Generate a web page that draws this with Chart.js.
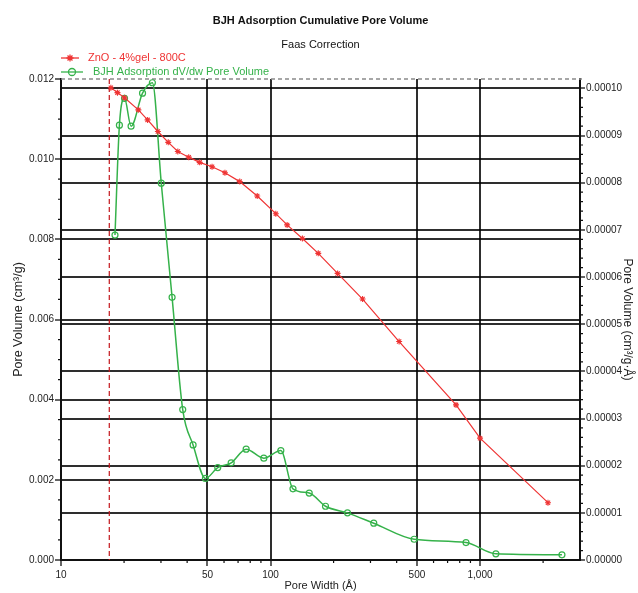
<!DOCTYPE html>
<html>
<head>
<meta charset="utf-8">
<title>BJH Adsorption Cumulative Pore Volume</title>
<script src="https://cdn.jsdelivr.net/npm/chart.js@4.4.1/dist/chart.umd.min.js"></script>
<style>
  html, body { margin: 0; padding: 0; background: #fff; }
  #wrap { width: 638px; height: 593px; }
</style>
</head>
<body>
<div id="wrap"><canvas id="chart" width="638" height="593"></canvas></div>
<script>
// cumulative pore volume: pore width (Å) / volume (cm³/g)
const cumWidth = [17.3, 18.6, 20.1, 23.4, 25.9, 29.0, 32.5, 36.1, 40.7, 45.9, 52.6, 60.6, 71.3, 86.4,
                  106, 120, 142, 169, 209, 275, 411, 768, 1000, 2110];
const cumVolume = [0.01178, 0.01166, 0.01153, 0.01123, 0.01098, 0.01069, 0.01042, 0.01019, 0.01005, 0.00992,
                   0.00981, 0.00966, 0.00944, 0.00908, 0.00864, 0.00836, 0.00802, 0.00765, 0.00715, 0.00651,
                   0.00545, 0.00387, 0.00304, 0.00143];

// dV/dw pore volume: pore width (Å) / volume (cm³/g·Å)
const dvWidth = [18.1, 19.0, 20.1, 21.6, 24.5, 27.3, 30.1, 33.9, 38.1, 42.7, 48.9, 56.0, 64.9, 76.5, 92.9,
                 112, 128, 153, 183, 233, 311, 485, 857, 1190, 2460];
const dvVolume = [6.89e-5, 9.22e-5, 9.79e-5, 9.20e-5, 9.90e-5, 1.012e-4, 7.99e-5, 5.57e-5, 3.19e-5, 2.44e-5,
                  1.73e-5, 1.96e-5, 2.06e-5, 2.35e-5, 2.16e-5, 2.32e-5, 1.51e-5, 1.42e-5, 1.14e-5, 1.00e-5,
                  7.8e-6, 4.4e-6, 3.7e-6, 1.3e-6, 1.1e-6];

// axes
const xMajorTicks = [10, 50, 100, 500, 1000];
const xMajorLabels = ['10', '50', '100', '500', '1,000'];
const xMinorTicks = [20, 30, 40, 60, 70, 80, 90, 200, 300, 400, 600, 700, 800, 900, 2000];
const leftTicks = [0, 0.002, 0.004, 0.006, 0.008, 0.010, 0.012];
const rightTicks = [0, 0.00001, 0.00002, 0.00003, 0.00004, 0.00005, 0.00006, 0.00007, 0.00008, 0.00009, 0.0001];
const rightAxisMax = 0.000102;
const minPoreWidth = 17;

const FONT = '"Liberation Sans", Arial, sans-serif';
const RED = '#ef3434';
const GREEN = '#35b24a';
const GRID = 'rgba(0,0,0,0.82)';
const CLEAR = 'rgba(0,0,0,0)';

Chart.defaults.font.family = FONT;

// title, legend, minor ticks and dashed lines
const dressing = {
    id: 'dressing',
    beforeDatasetsDraw(chart) {
        const {ctx, chartArea: a, scales} = chart;
        ctx.save();
        // lower limit of the BJH range
        const xm = scales.x.getPixelForValue(minPoreWidth);
        ctx.strokeStyle = '#c3161c';
        ctx.lineWidth = 1.2;
        ctx.setLineDash([5, 3]);
        ctx.beginPath();
        ctx.moveTo(xm, a.top);
        ctx.lineTo(xm, a.bottom);
        ctx.stroke();
        // dashed top edge
        ctx.strokeStyle = '#8a8a8a';
        ctx.lineWidth = 1.5;
        ctx.setLineDash([4, 3]);
        ctx.beginPath();
        ctx.moveTo(a.left, a.top);
        ctx.lineTo(a.right + 2, a.top);
        ctx.stroke();
        ctx.restore();
    },
    afterDraw(chart) {
        const {ctx, chartArea: a, scales} = chart;
        ctx.save();

        // minor tick marks
        ctx.strokeStyle = '#111';
        ctx.lineWidth = 1.2;
        ctx.beginPath();
        xMinorTicks.forEach(v => {
            const px = scales.x.getPixelForValue(v);
            ctx.moveTo(px, a.bottom);
            ctx.lineTo(px, a.bottom + 3);
        });
        for (let i = 1; i < 24; i++) {
            if (i % 4 === 0) continue;
            const py = scales.y.getPixelForValue(i * 0.0005);
            ctx.moveTo(a.left - 3, py);
            ctx.lineTo(a.left, py);
        }
        for (let i = 1; i < 51; i++) {
            if (i % 5 === 0) continue;
            const py = scales.y1.getPixelForValue(i * 0.000002);
            ctx.moveTo(a.right, py);
            ctx.lineTo(a.right + 3, py);
        }
        ctx.stroke();

        // titles
        const cx = (a.left + a.right) / 2;
        ctx.fillStyle = '#111';
        ctx.textAlign = 'center';
        ctx.textBaseline = 'middle';
        ctx.font = 'bold 11px ' + FONT;
        ctx.fillText('BJH Adsorption Cumulative Pore Volume', cx, 21);
        ctx.font = '11px ' + FONT;
        ctx.fillText('Faas Correction', cx, 45);

        // legend
        const rows = [
            {y: 58, lineEnd: 79, textX: 88},
            {y: 72, lineEnd: 83, textX: 93}
        ];
        ctx.font = '11px ' + FONT;
        ctx.textAlign = 'left';
        chart.data.datasets.forEach((ds, i) => {
            const r = rows[i];
            ctx.strokeStyle = ds.borderColor;
            ctx.lineWidth = 1.3;
            ctx.beginPath();
            ctx.moveTo(61, r.y);
            ctx.lineTo(r.lineEnd, r.y);
            ctx.stroke();
            ctx.fillStyle = ds.pointBackgroundColor;
            Chart.helpers.drawPoint(ctx, {pointStyle: ds.pointStyle, radius: 3.5, borderWidth: 1.2}, (61 + r.lineEnd) / 2, r.y);
            ctx.fillStyle = ds.borderColor;
            ctx.fillText(ds.label, r.textX, r.y);
        });
        ctx.restore();
    }
};

const cumPoints = cumWidth.map((w, i) => ({x: w, y: cumVolume[i]}));
const dvPoints = dvWidth.map((w, i) => ({x: w, y: dvVolume[i]}));

new Chart(document.getElementById('chart'), {
    type: 'line',
    data: {
        datasets: [{
            label: 'ZnO - 4%gel - 800C',
            data: cumPoints,
            yAxisID: 'y',
            borderColor: RED,
            borderWidth: 1.2,
            pointStyle: 'star',
            pointRadius: 3,
            pointBorderColor: RED,
            pointBorderWidth: 1.1,
            pointBackgroundColor: RED,
            tension: 0
        }, {
            label: 'BJH Adsorption dV/dw Pore Volume',
            data: dvPoints,
            yAxisID: 'y1',
            borderColor: GREEN,
            borderWidth: 1.5,
            pointStyle: 'circle',
            pointRadius: 3,
            pointBorderColor: GREEN,
            pointBorderWidth: 1.2,
            pointBackgroundColor: CLEAR,
            cubicInterpolationMode: 'monotone'
        }]
    },
    options: {
        responsive: false,
        animation: false,
        layout: { padding: { top: 79, left: 0, right: 0, bottom: 0 } },
        plugins: {
            legend: { display: false },
            title: { display: false },
            tooltip: { enabled: false }
        },
        scales: {
            x: {
                type: 'logarithmic',
                position: 'bottom',
                min: 10,
                max: 3000,
                afterBuildTicks: s => { s.ticks = xMajorTicks.map(v => ({value: v})); },
                afterFit: s => { s.height = 33; },
                ticks: {
                    autoSkip: false,
                    maxRotation: 0,
                    padding: 3,
                    color: '#222',
                    font: { size: 10 },
                    callback: v => {
                        const i = xMajorTicks.indexOf(v);
                        return i < 0 ? '' : xMajorLabels[i];
                    }
                },
                grid: {
                    color: c => (c.tick && c.tick.value === 10) ? CLEAR : GRID,
                    lineWidth: 2,
                    tickLength: 6,
                    tickColor: '#111',
                    tickWidth: 1.3
                },
                border: { color: '#111', width: 2 },
                title: {
                    display: true,
                    text: 'Pore Width (Å)',
                    color: '#222',
                    font: { size: 11 },
                    padding: { top: 0, bottom: 0 }
                }
            },
            y: {
                type: 'linear',
                position: 'left',
                min: 0,
                max: 0.012,
                afterBuildTicks: s => { s.ticks = leftTicks.map(v => ({value: v})); },
                afterFit: s => { s.width = 61; },
                ticks: {
                    padding: 1,
                    color: '#222',
                    font: { size: 10 },
                    callback: v => v.toFixed(3)
                },
                grid: {
                    color: c => (c.tick && c.tick.value >= 0.012) ? CLEAR : GRID,
                    lineWidth: 2,
                    tickLength: 6,
                    tickColor: '#111',
                    tickWidth: 1.3
                },
                border: { color: '#111', width: 2 },
                title: {
                    display: true,
                    text: 'Pore Volume (cm³/g)',
                    color: '#222',
                    font: { size: 12.5 },
                    padding: { top: 11, bottom: 0 }
                }
            },
            y1: {
                type: 'linear',
                position: 'right',
                min: 0,
                max: rightAxisMax,
                afterBuildTicks: s => { s.ticks = rightTicks.map(v => ({value: v})); },
                afterFit: s => { s.width = 58; },
                ticks: {
                    padding: 1,
                    color: '#222',
                    font: { size: 10 },
                    callback: v => v.toFixed(5)
                },
                grid: {
                    color: GRID,
                    lineWidth: 2,
                    tickLength: 5,
                    tickColor: '#111',
                    tickWidth: 1.3
                },
                border: { color: '#111', width: 2 },
                title: {
                    display: true,
                    text: 'Pore Volume (cm³/g·Å)',
                    color: '#222',
                    font: { size: 12 },
                    padding: { top: 3, bottom: 0 }
                }
            }
        }
    },
    plugins: [dressing]
});
</script>
</body>
</html>
